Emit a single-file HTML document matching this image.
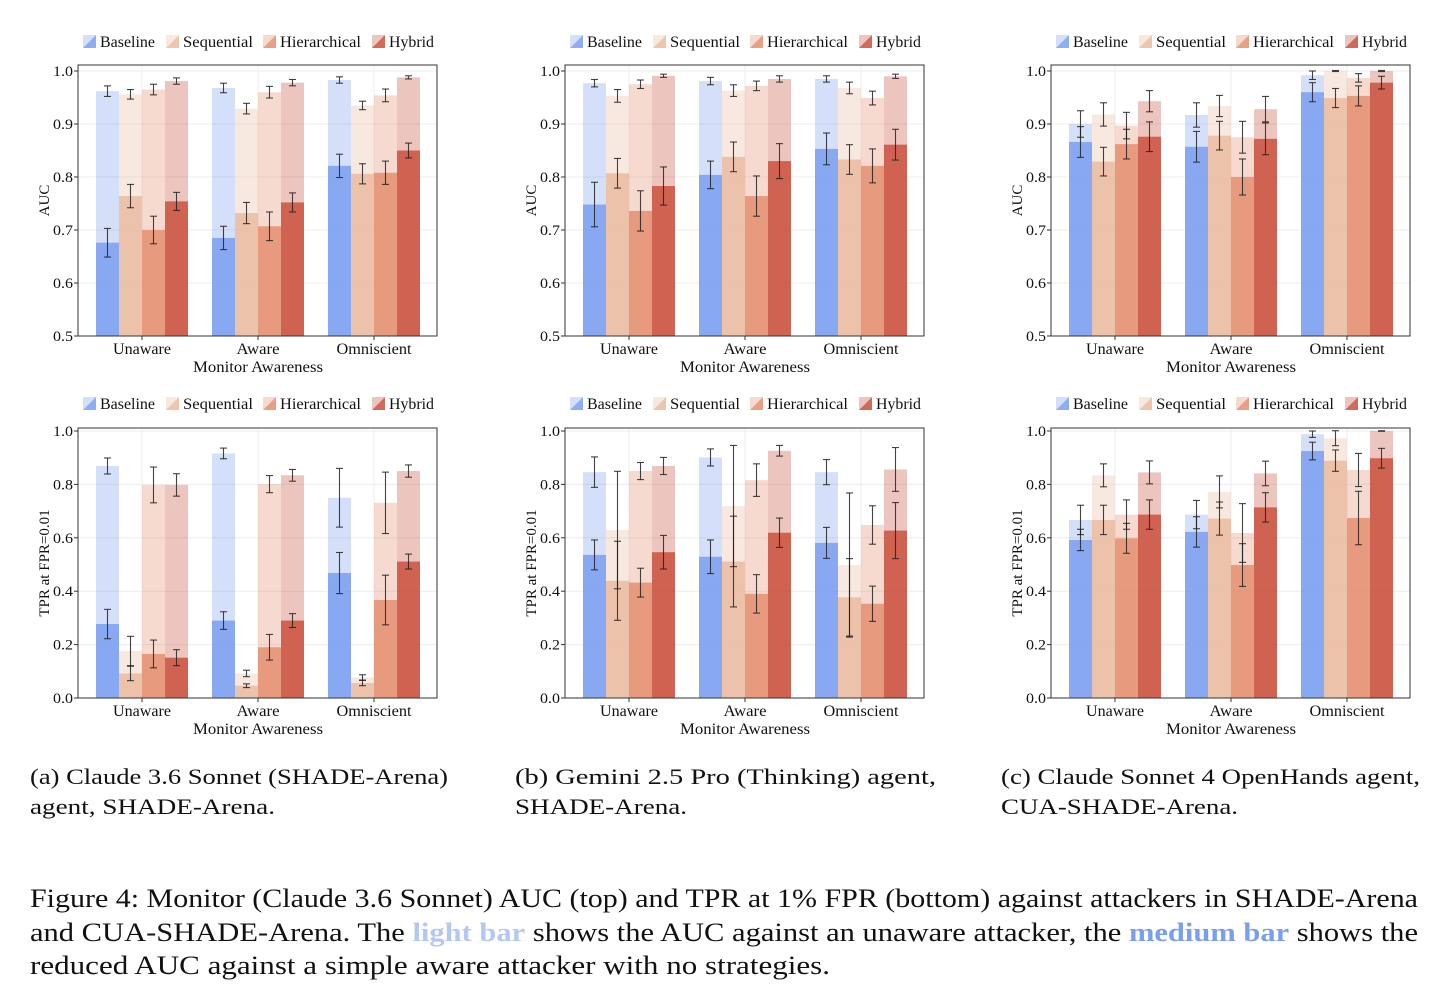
<!DOCTYPE html>
<html><head><meta charset="utf-8"><style>
html,body{margin:0;padding:0;background:#fff;}
svg{display:block;font-family:"Liberation Serif",serif;}
</style></head><body>
<svg id="fig" width="1456" height="1005" viewBox="0 0 1456 1005" xmlns="http://www.w3.org/2000/svg">
<g id="panels"></g>
<g font-size="22" fill="#111">
<text x="30" y="784" textLength="418" lengthAdjust="spacingAndGlyphs">(a) Claude 3.6 Sonnet (SHADE-Arena)</text>
<text x="30" y="814" textLength="245" lengthAdjust="spacingAndGlyphs">agent, SHADE-Arena.</text>
<text x="515" y="784" textLength="421" lengthAdjust="spacingAndGlyphs">(b) Gemini 2.5 Pro (Thinking) agent,</text>
<text x="515" y="814" textLength="172" lengthAdjust="spacingAndGlyphs">SHADE-Arena.</text>
<text x="1001" y="784" textLength="419" lengthAdjust="spacingAndGlyphs">(c) Claude Sonnet 4 OpenHands agent,</text>
<text x="1001" y="814" textLength="237" lengthAdjust="spacingAndGlyphs">CUA-SHADE-Arena.</text>
</g>
<g font-size="26" fill="#111">
<text x="30" y="907" textLength="1388" lengthAdjust="spacingAndGlyphs">Figure 4: Monitor (Claude 3.6 Sonnet) AUC (top) and TPR at 1% FPR (bottom) against attackers in SHADE-Arena</text>
<text x="30" y="941" textLength="1388" lengthAdjust="spacingAndGlyphs">and CUA-SHADE-Arena. The <tspan fill="#b3c6f4" font-weight="bold">light bar</tspan> shows the AUC against an unaware attacker, the <tspan fill="#7b9ff0" font-weight="bold">medium bar</tspan> shows the</text>
<text x="30" y="974" textLength="800" lengthAdjust="spacingAndGlyphs">reduced AUC against a simple aware attacker with no strategies.</text>
</g>
</svg>
<script>
const categories = ["Unaware","Aware","Omniscient"];
const seriesNames = ["Baseline","Sequential","Hierarchical","Hybrid"];
const yTicksAUC = ["0.5","0.6","0.7","0.8","0.9","1.0"];
const yTicksTPR = ["0.0","0.2","0.4","0.6","0.8","1.0"];
// values indexed [category][series]
const aAucLight = [[0.962,0.956,0.965,0.981],[0.968,0.929,0.960,0.978],[0.983,0.935,0.954,0.988]];
const aAucLightErr = [[0.010,0.009,0.010,0.006],[0.009,0.010,0.011,0.006],[0.006,0.008,0.012,0.003]];
const aAucMed = [[0.676,0.764,0.700,0.754],[0.685,0.732,0.707,0.752],[0.821,0.806,0.808,0.850]];
const aAucMedErr = [[0.027,0.022,0.026,0.017],[0.022,0.020,0.027,0.018],[0.022,0.019,0.022,0.014]];
const bAucLight = [[0.977,0.953,0.975,0.991],[0.981,0.963,0.972,0.985],[0.985,0.968,0.949,0.990]];
const bAucLightErr = [[0.007,0.012,0.008,0.003],[0.007,0.011,0.009,0.006],[0.006,0.011,0.013,0.004]];
const bAucMed = [[0.748,0.807,0.736,0.783],[0.804,0.838,0.764,0.830],[0.853,0.833,0.821,0.861]];
const bAucMedErr = [[0.042,0.028,0.038,0.036],[0.026,0.028,0.038,0.033],[0.030,0.028,0.032,0.029]];
const cAucLight = [[0.900,0.918,0.897,0.943],[0.917,0.934,0.875,0.928],[0.992,1.000,0.987,1.000]];
const cAucLightErr = [[0.025,0.022,0.025,0.020],[0.023,0.020,0.030,0.024],[0.008,0.001,0.008,0.001]];
const cAucMed = [[0.866,0.829,0.862,0.876],[0.857,0.878,0.800,0.872],[0.960,0.949,0.953,0.978]];
const cAucMedErr = [[0.029,0.027,0.028,0.028],[0.029,0.027,0.034,0.030],[0.018,0.018,0.019,0.012]];
const aTprLight = [[0.869,0.176,0.798,0.798],[0.916,0.092,0.801,0.834],[0.750,0.077,0.731,0.850]];
const aTprLightErr = [[0.030,0.055,0.067,0.042],[0.020,0.012,0.032,0.022],[0.110,0.010,0.115,0.023]];
const aTprMed = [[0.277,0.092,0.165,0.151],[0.290,0.046,0.190,0.290],[0.468,0.056,0.367,0.511]];
const aTprMedErr = [[0.055,0.027,0.052,0.030],[0.033,0.007,0.048,0.026],[0.077,0.010,0.093,0.028]];
const bTprLight = [[0.846,0.629,0.850,0.869],[0.901,0.719,0.816,0.926],[0.846,0.498,0.648,0.856]];
const bTprLightErr = [[0.057,0.220,0.032,0.032],[0.032,0.227,0.061,0.020],[0.047,0.270,0.072,0.082]];
const bTprMed = [[0.536,0.439,0.432,0.546],[0.529,0.511,0.390,0.619],[0.581,0.377,0.353,0.627]];
const bTprMedErr = [[0.056,0.148,0.054,0.063],[0.063,0.170,0.072,0.055],[0.058,0.145,0.066,0.105]];
const cTprLight = [[0.667,0.834,0.687,0.845],[0.687,0.772,0.618,0.841],[0.988,0.973,0.854,1.000]];
const cTprLightErr = [[0.055,0.043,0.055,0.043],[0.053,0.060,0.110,0.046],[0.012,0.028,0.062,0.001]];
const cTprMed = [[0.592,0.667,0.598,0.687],[0.622,0.672,0.498,0.714],[0.925,0.889,0.674,0.898]];
const cTprMedErr = [[0.040,0.055,0.056,0.055],[0.057,0.062,0.080,0.055],[0.033,0.040,0.100,0.037]];

const colors = ["#7b9ff0","#ebbba0","#e48e6f","#c9503d"];
const legendTextW = [55, 70, 81, 45];
const catTextW = [58, 43, 75];
const NS = "http://www.w3.org/2000/svg";
const root = document.getElementById("panels");
function mk(tag, attrs, parent){
  const e = document.createElementNS(NS, tag);
  for (const k in attrs) e.setAttribute(k, attrs[k]);
  parent.appendChild(e); return e;
}
const panels = [
  {id:"a-auc", x0:78, row:0, light:aAucLight, le:aAucLightErr, med:aAucMed, me:aAucMedErr},
  {id:"b-auc", x0:565, row:0, light:bAucLight, le:bAucLightErr, med:bAucMed, me:bAucMedErr},
  {id:"c-auc", x0:1051, row:0, light:cAucLight, le:cAucLightErr, med:cAucMed, me:cAucMedErr},
  {id:"a-tpr", x0:78, row:1, light:aTprLight, le:aTprLightErr, med:aTprMed, me:aTprMedErr},
  {id:"b-tpr", x0:565, row:1, light:bTprLight, le:bTprLightErr, med:bTprMed, me:bTprMedErr},
  {id:"c-tpr", x0:1051, row:1, light:cTprLight, le:cTprLightErr, med:cTprMed, me:cTprMedErr}
];
const W = 359, BW = 23, GAP = 116;
panels.forEach(p => {
  const g = mk("g", {}, root);
  
  
  const top = p.row===0 ? 65 : 428, bot = p.row===0 ? 336 : 698;
  const vmin = p.row===0 ? 0.5 : 0.0;
  const y1 = p.row===0 ? 71 : 431;
  const yScale = v => bot - (v - vmin)/(1 - vmin)*(bot - y1);
  const xCenter = ci => p.x0 + 64 + ci*GAP;
  const ticks = p.row===0 ? yTicksAUC : yTicksTPR;
  ticks.forEach(t => {
    const y = yScale(parseFloat(t));
    const gl = mk("line", {x1:p.x0, x2:p.x0+W, y1:y, y2:y, stroke:"#ececec", "stroke-width":1}, g);
    
    
    mk("line", {x1:p.x0-4, x2:p.x0, y1:y, y2:y, stroke:"#333", "stroke-width":1}, g);
    const tl = mk("text", {x:p.x0-5, y:y+5, "font-size":14.5, "text-anchor":"end", fill:"#111", textLength:20, lengthAdjust:"spacingAndGlyphs"}, g);
    tl.textContent = t;
    
    
  });
  categories.forEach((c, ci) => {
    const xc = xCenter(ci);
    mk("line", {x1:xc, x2:xc, y1:top, y2:bot, stroke:"#ececec", "stroke-width":1}, g);
  });
  categories.forEach((c, ci) => {
    seriesNames.forEach((s, si) => {
      const x = xCenter(ci) - 2*BW + si*BW;
      const yl = yScale(p.light[ci][si]);
      const lb = mk("rect", {x:x, y:yl, width:BW, height:bot-yl, fill:colors[si], "fill-opacity":0.33}, g);
      
      
      const ym = yScale(p.med[ci][si]);
      const mb = mk("rect", {x:x, y:ym, width:BW, height:bot-ym, fill:colors[si], "fill-opacity":0.85}, g);
      
      
    });
  });
  categories.forEach((c, ci) => {
    seriesNames.forEach((s, si) => {
      const xm = xCenter(ci) - 2*BW + si*BW + BW/2;
      [[p.light[ci][si], p.le[ci][si]], [p.med[ci][si], p.me[ci][si]]].forEach(([v, e]) => {
        const ya = yScale(Math.min(v+e, 1 + (1-vmin)*0.011)), yb = yScale(v-e);
        const eg = mk("g", {stroke:"#222", "stroke-width":1.1, "stroke-opacity":0.85}, g);
        
        
        mk("line", {x1:xm, x2:xm, y1:ya, y2:yb}, eg);
        mk("line", {x1:xm-3.5, x2:xm+3.5, y1:ya, y2:ya}, eg);
        mk("line", {x1:xm-3.5, x2:xm+3.5, y1:yb, y2:yb}, eg);
      });
    });
    const xc = xCenter(ci);
    mk("line", {x1:xc, x2:xc, y1:bot, y2:bot+4, stroke:"#333"}, g);
    const xl = mk("text", {x:xc, y:bot+18, "font-size":16, "text-anchor":"middle", fill:"#111", textLength:catTextW[ci], lengthAdjust:"spacingAndGlyphs"}, g);
    xl.textContent = c;
    
    
  });
  const fr = mk("rect", {x:p.x0, y:top, width:W, height:bot-top, fill:"none", stroke:"#333", "stroke-width":1}, g);
  
  
  const xt = mk("text", {x:p.x0+180, y:bot+36, "font-size":16, "text-anchor":"middle", fill:"#111", textLength:130, lengthAdjust:"spacingAndGlyphs"}, g);
  xt.textContent = "Monitor Awareness";
  
  
  const ym = (top+bot)/2;
  const yt = mk("text", {x:p.x0-29, y:ym, "font-size":15, "text-anchor":"middle", fill:"#111", transform:`rotate(-90 ${p.x0-29} ${ym})`}, g);
  yt.textContent = p.row===0 ? "AUC" : "TPR at FPR=0.01";
  
  
  const ly = p.row===0 ? 42 : 404;
  const lx = [5, 88, 185, 294];
  seriesNames.forEach((s, si) => {
    const sx = p.x0 + lx[si];
    const lg = mk("g", {}, g);
    
    
    mk("polygon", {points:`${sx},${ly-7} ${sx+13},${ly-7} ${sx},${ly+6}`, fill:colors[si], "fill-opacity":0.33}, lg);
    mk("polygon", {points:`${sx+13},${ly-7} ${sx+13},${ly+6} ${sx},${ly+6}`, fill:colors[si], "fill-opacity":0.85}, lg);
    const t = mk("text", {x:sx+17, y:ly+5, "font-size":15.5, fill:"#111", textLength:legendTextW[si], lengthAdjust:"spacingAndGlyphs"}, lg);
    t.textContent = s;
  });
});
</script>
</body></html>
